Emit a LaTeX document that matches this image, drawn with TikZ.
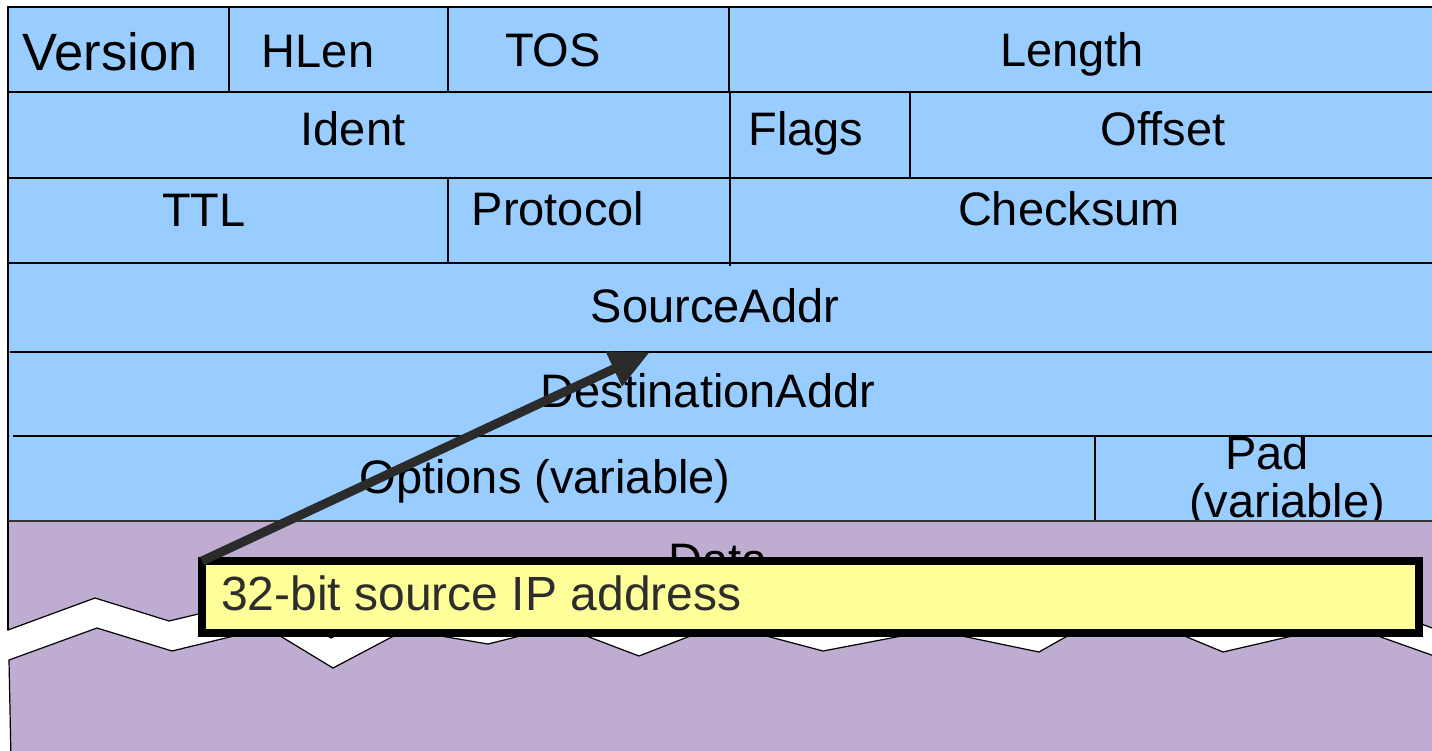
\documentclass[tikz,border=0pt]{standalone}
\usepackage{fontspec}
\setmainfont{Liberation Sans}
\usetikzlibrary{arrows.meta}
\definecolor{hdrblue}{RGB}{153,204,255}
\definecolor{datapurple}{RGB}{191,172,209}
\definecolor{noteyellow}{RGB}{255,255,153}
\definecolor{arrowgray}{RGB}{43,43,43}
\definecolor{notetext}{RGB}{45,45,45}
\begin{document}
\begin{tikzpicture}[x=1pt,y=-1pt,
  lbl/.style={anchor=base,inner sep=0pt,font=\fontsize{47}{52}\selectfont},
  gridline/.style={line width=2pt,black},
  zigline/.style={draw=black,line width=1.2pt,fill=datapurple}]
\useasboundingbox (0,0) rectangle (1432,750);
% header area
\fill[hdrblue] (8,7) rectangle (1440,521);
\draw[gridline] (7,7) -- (1440,7);
\draw[gridline] (8,6) -- (8,630);
\draw[gridline] (8,92) -- (1440,92);
\draw[gridline] (8,178) -- (1440,178);
\draw[gridline] (8,263) -- (1440,263);
\draw[gridline] (10,352) -- (1440,352);
\draw[gridline] (13,436) -- (1440,436);
\draw[gridline] (229,7) -- (229,92);
\draw[gridline] (448,7) -- (448,92);
\draw[gridline] (729,7) -- (729,92);
\draw[gridline] (730,92) -- (730,178);
\draw[gridline] (910,92) -- (910,178);
\draw[gridline] (448,178) -- (448,263);
\draw[gridline] (730,178) -- (730,266);
\draw[gridline] (1095,436) -- (1095,521);
% labels
\node[lbl,font=\fontsize{52.5}{56}\selectfont] (version) at (110,70) {Version};
\node[lbl] (hlen) at (318,67) {HLen};
\node[lbl] (tos) at (553,66) {TOS};
\node[lbl] (length) at (1072,66) {Length};
\node[lbl] (ident) at (353,145) {Ident};
\node[lbl] (flags) at (806,145) {Flags};
\node[lbl] (offset) at (1163,145) {Offset};
\node[lbl] (ttl) at (204,226) {TTL};
\node[lbl] (protocol) at (558,225) {Protocol};
\node[lbl] (checksum) at (1069,225) {Checksum};
\node[lbl] (src) at (715,322) {SourceAddr};
\node[lbl] (dst) at (708,407) {DestinationAddr};
\node[lbl] (opts) at (545,493) {Options (variable)};
\node[lbl] (pad) at (1267,469) {Pad};
\node[lbl] (padvar) at (1287,517) {(variable)};
% data area, upper part
\path[zigline] (8,521) -- (1440,521) -- (1440,631) -- (1342,594) -- (1221,622)
  -- (1115,578) -- (1037,622) -- (931,600) -- (821,621) -- (719,594)
  -- (637,626) -- (558,596) -- (486,614) -- (403,600) -- (331,638)
  -- (265,598) -- (169,621) -- (95,598) -- (8,630) -- cycle;
\draw[line width=1.5pt,black!80] (8,521) -- (1440,521);
\draw[gridline] (8,521) -- (8,630);
% data area, lower part
\path[zigline] (9,660) -- (97,628) -- (172,651) -- (267,628) -- (333,668)
  -- (405,630) -- (488,644) -- (560,626) -- (639,656) -- (721,624)
  -- (823,651) -- (933,630) -- (1039,652) -- (1117,608) -- (1223,652)
  -- (1344,624) -- (1440,658) -- (1440,760) -- (11,760) -- cycle;
\node[lbl] (data) at (718,576) {Data};
% note box and arrow
\node[draw=black,line width=8pt,fill=noteyellow,minimum width=1217pt,
  minimum height=72pt,inner sep=0pt,outer sep=0pt,anchor=north west] (box) at (202,561) {};
\node[anchor=base west,inner sep=0pt,text=notetext,font=\fontsize{48}{52}\selectfont]
  (boxtext) at (221,610) {32-bit source IP address};
\coordinate (tip) at (650,352);
\draw[arrowgray,line width=9pt,-{Triangle[length=40pt,width=36pt]}] (box.north west) -- (tip);
\end{tikzpicture}
\end{document}
